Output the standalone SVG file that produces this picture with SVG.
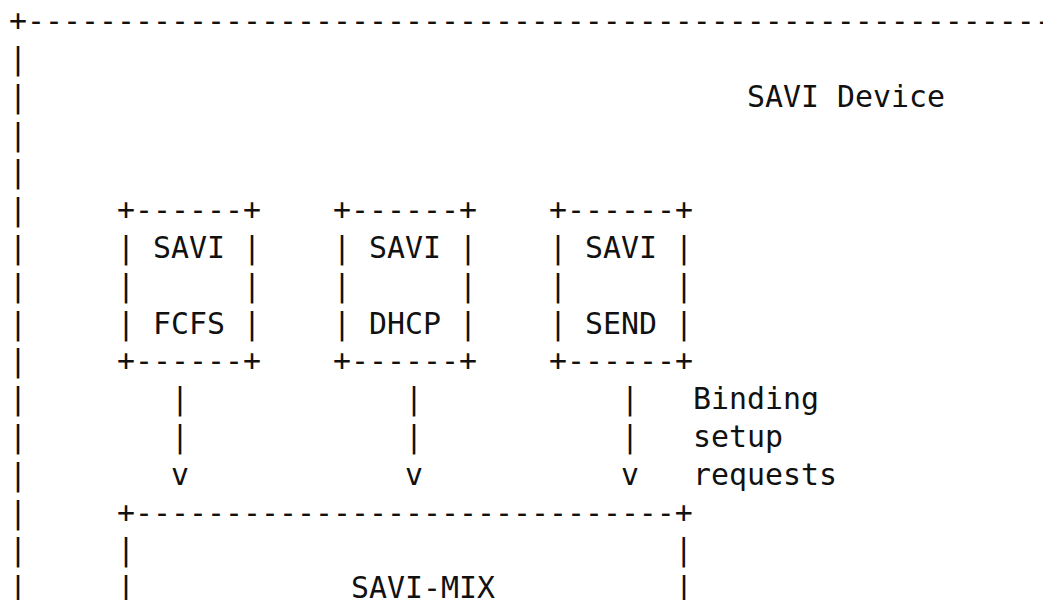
<svg xmlns="http://www.w3.org/2000/svg" width="1043" height="600" viewBox="0 0 1043 600">
<style>
text { font-family: "DejaVu Sans Mono", "Liberation Mono", monospace; font-size: 29.9px; fill: #111; white-space: pre; }
</style>
<rect width="1043" height="600" fill="#fff"/>
<g id="savi-device">
<text x="9" y="31.1">+--------------------------------------------------------------</text>
<text x="9" y="68.9">|</text>
<text x="9" y="106.7">|</text>
<text x="9" y="144.5">|</text>
<text x="9" y="182.3">|</text>
<text x="9" y="220.1">|</text>
<text x="9" y="257.9">|</text>
<text x="9" y="295.7">|</text>
<text x="9" y="333.5">|</text>
<text x="9" y="371.3">|</text>
<text x="9" y="409.1">|</text>
<text x="9" y="446.9">|</text>
<text x="9" y="484.7">|</text>
<text x="9" y="522.5">|</text>
<text x="9" y="560.3">|</text>
<text x="9" y="598.1">|</text>
<text x="747" y="106.7">SAVI Device</text>
</g>
<g id="savi-fcfs">
<text x="117" y="220.1">+------+</text>
<text x="117" y="257.9">| SAVI |</text>
<text x="117" y="295.7">|      |</text>
<text x="117" y="333.5">| FCFS |</text>
<text x="117" y="371.3">+------+</text>
</g>
<g id="savi-dhcp">
<text x="333" y="220.1">+------+</text>
<text x="333" y="257.9">| SAVI |</text>
<text x="333" y="295.7">|      |</text>
<text x="333" y="333.5">| DHCP |</text>
<text x="333" y="371.3">+------+</text>
</g>
<g id="savi-send">
<text x="549" y="220.1">+------+</text>
<text x="549" y="257.9">| SAVI |</text>
<text x="549" y="295.7">|      |</text>
<text x="549" y="333.5">| SEND |</text>
<text x="549" y="371.3">+------+</text>
</g>
<g id="connectors">
<text x="171" y="409.1">|</text>
<text x="171" y="446.9">|</text>
<text x="171" y="484.7">v</text>
<text x="405" y="409.1">|</text>
<text x="405" y="446.9">|</text>
<text x="405" y="484.7">v</text>
<text x="621" y="409.1">|</text>
<text x="621" y="446.9">|</text>
<text x="621" y="484.7">v</text>
<text x="693" y="409.1">Binding</text>
<text x="693" y="446.9">setup</text>
<text x="693" y="484.7">requests</text>
</g>
<g id="savi-mix">
<text x="117" y="522.5">+------------------------------+</text>
<text x="117" y="560.3">|                              |</text>
<text x="117" y="598.1">|</text>
<text x="351" y="598.1">SAVI-MIX</text>
<text x="675" y="598.1">|</text>
</g>
</svg>
